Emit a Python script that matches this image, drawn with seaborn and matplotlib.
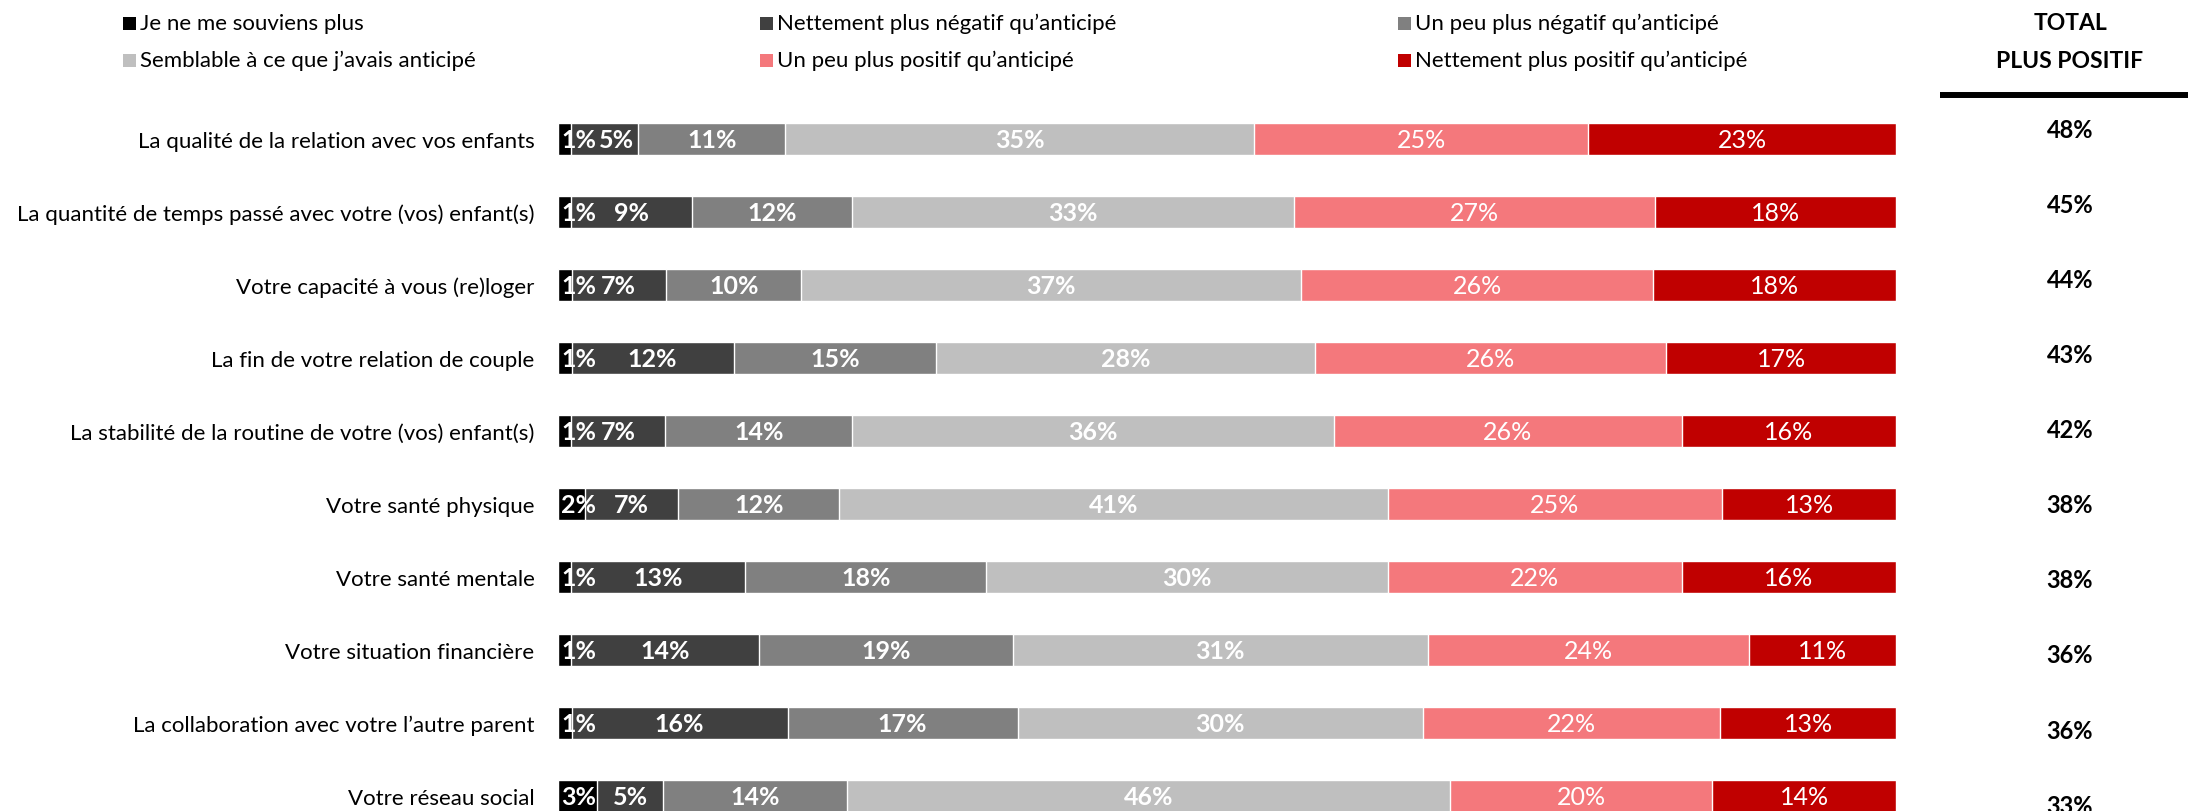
import numpy as np
import pandas as pd
import matplotlib
matplotlib.use("Agg")
import matplotlib.pyplot as plt
import seaborn as sns
from matplotlib.patches import Rectangle
from matplotlib.lines import Line2D

sns.set_theme(style="white")
plt.rcParams['font.family'] = ['Lato', 'DejaVu Sans']

# Données
items = [
    "La qualité de la relation avec vos enfants",
    "La quantité de temps passé avec votre (vos) enfant(s)",
    "Votre capacité à vous (re)loger",
    "La fin de votre relation de couple",
    "La stabilité de la routine de votre (vos) enfant(s)",
    "Votre santé physique",
    "Votre santé mentale",
    "Votre situation financière",
    "La collaboration avec votre l’autre parent",
    "Votre réseau social",
]
categories = [
    "Je ne me souviens plus",
    "Nettement plus négatif qu’anticipé",
    "Un peu plus négatif qu’anticipé",
    "Semblable à ce que j’avais anticipé",
    "Un peu plus positif qu’anticipé",
    "Nettement plus positif qu’anticipé",
]
ne_sait_plus = [1, 1, 1, 1, 1, 2, 1, 1, 1, 3]
net_negatif = [5, 9, 7, 12, 7, 7, 13, 14, 16, 5]
peu_negatif = [11, 12, 10, 15, 14, 12, 18, 19, 17, 14]
semblable = [35, 33, 37, 28, 36, 41, 30, 31, 30, 46]
peu_positif = [25, 27, 26, 26, 26, 25, 22, 24, 22, 20]
net_positif = [23, 18, 18, 17, 16, 13, 16, 11, 13, 14]
total_positif = [48, 45, 44, 43, 42, 38, 38, 36, 36, 33]

couleurs = ["#000000", "#404040", "#808080", "#BFBFBF", "#F4787C", "#C00000"]
gras = [True, True, True, True, False, False]

df = pd.DataFrame(
    np.array([ne_sait_plus, net_negatif, peu_negatif, semblable,
              peu_positif, net_positif]).T,
    columns=categories, index=items)
# chaque barre est ramenée à 100 % (les valeurs affichées sont arrondies)
df_norm = df.div(df.sum(axis=1), axis=0) * 100
cum = df_norm.cumsum(axis=1)

W, H = 2188, 812
fig = plt.figure(figsize=(W / 100, H / 100), dpi=100)
ax = fig.add_axes([558 / W, 0, 1338 / W, 712 / H])

# barres empilées : on superpose les cumuls du plus grand au plus petit
for k in range(len(categories) - 1, -1, -1):
    sns.barplot(x=cum.iloc[:, k].values, y=items, orient="h", color=couleurs[k],
                saturation=1, width=0.44, errorbar=None, ax=ax)

ax.set_xlim(0, 100)
ax.set_ylim(9.205, -0.548)
ax.set_xticks([])
ax.set_xlabel("")
ax.set_ylabel("")
for s in ax.spines.values():
    s.set_visible(False)
ax.tick_params(axis="y", length=0, pad=17, labelsize=16, labelcolor="black")

# étiquettes des segments (décalées si elles se chevauchent)
fig.canvas.draw()
renderer = fig.canvas.get_renderer()
x0_px = ax.get_window_extent().x0
px_par_unite = ax.get_window_extent().width / 100
for i in range(len(items)):
    droite_prec = x0_px
    for k in range(len(categories)):
        centre = cum.iloc[i, k] - df_norm.iloc[i, k] / 2
        t = ax.text(centre, i, f"{df.iloc[i, k]}%", ha="center", va="center",
                    color="white", fontsize=18,
                    fontweight="bold" if gras[k] else "normal")
        bb = t.get_window_extent(renderer)
        if bb.x0 < droite_prec + 3:
            centre += (droite_prec + 3 - bb.x0) / px_par_unite
            t.set_x(centre)
            bb = t.get_window_extent(renderer)
        droite_prec = bb.x1

# colonne total
trans = matplotlib.transforms.blended_transform_factory(fig.transFigure, ax.transData)
for i, v in enumerate(total_positif):
    ax.text(2070 / W, -0.134 + i * 1.0288, f"{v}%", transform=trans, ha="center",
            va="center", fontsize=17, fontweight="bold", color="black", clip_on=False)

fig.text(2070 / W, 1 - 24 / H, "TOTAL", ha="center", va="center", fontsize=16.5,
         fontweight="bold", color="black")
fig.text(2070 / W, 1 - 61 / H, "PLUS POSITIF", ha="center", va="center", fontsize=16.5,
         fontweight="bold", color="black")
fig.add_artist(Line2D([1940 / W, 1], [1 - 96 / H, 1 - 96 / H], transform=fig.transFigure,
                      color="black", linewidth=4.3, solid_capstyle="butt"))

# légende
col_x = [123, 760, 1398]
row_y = [24, 61]
for k, nom in enumerate(categories):
    x = col_x[k % 3]
    y = row_y[k // 3]
    fig.add_artist(Rectangle((x / W, 1 - (y + 6.5) / H), 13 / W, 13 / H,
                             transform=fig.transFigure, color=couleurs[k], lw=0))
    fig.text((x + 17) / W, 1 - y / H, nom, ha="left", va="center", fontsize=16,
             color="black")

fig.savefig("out.png", dpi=100)
